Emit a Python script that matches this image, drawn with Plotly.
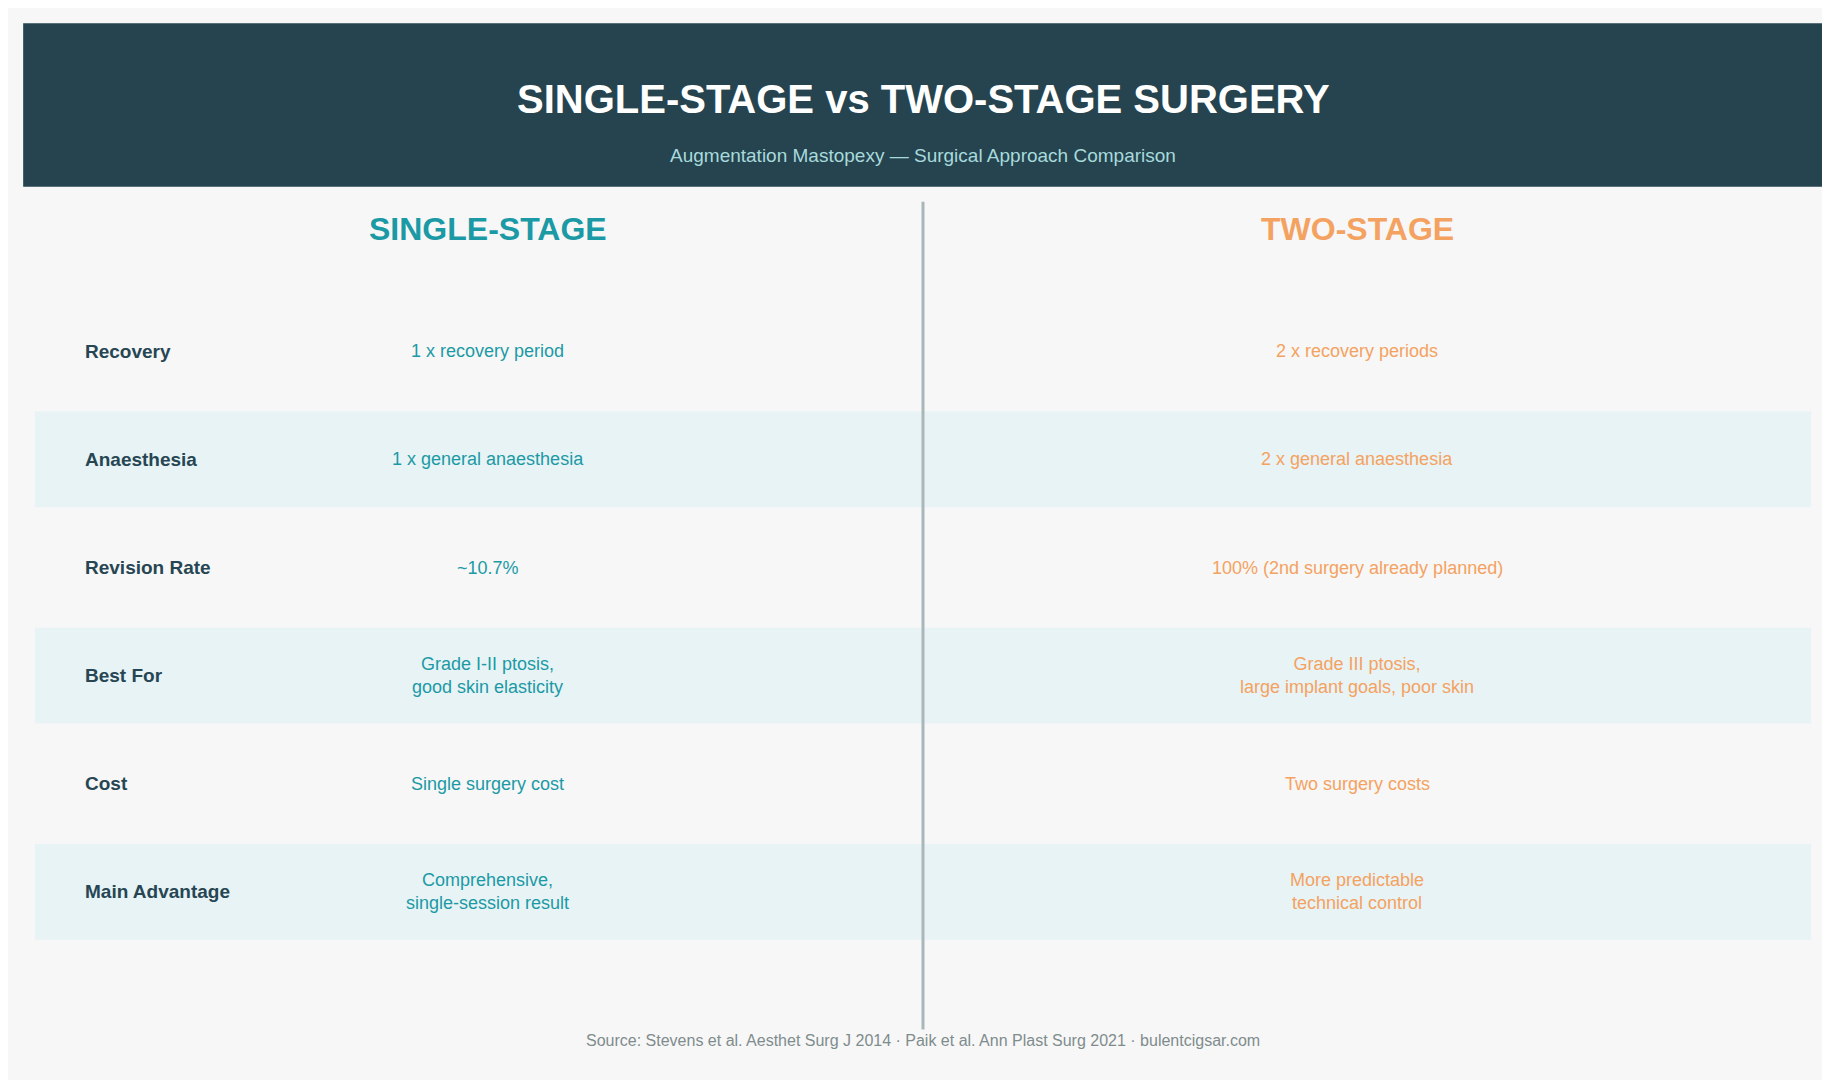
import plotly.graph_objects as go

title = "SINGLE-STAGE vs TWO-STAGE SURGERY"
subtitle = "Augmentation Mastopexy — Surgical Approach Comparison"
col_headers = ["SINGLE-STAGE", "TWO-STAGE"]
row_labels = ["Recovery", "Anaesthesia", "Revision Rate", "Best For", "Cost", "Main Advantage"]
single_vals = ["1 x recovery period", "1 x general anaesthesia", "~10.7%",
               "Grade I-II ptosis,<br>good skin elasticity", "Single surgery cost",
               "Comprehensive,<br>single-session result"]
two_vals = ["2 x recovery periods", "2 x general anaesthesia", "100% (2nd surgery already planned)",
            "Grade III ptosis,<br>large implant goals, poor skin", "Two surgery costs",
            "More predictable<br>technical control"]
source = "Source: Stevens et al. Aesthet Surg J 2014 · Paik et al. Ann Plast Surg 2021 · bulentcigsar.com"

W, H = 1568, 925
TEAL, ORANGE, DARK = "#1b9aa6", "#f4a261", "#264653"
font = "Liberation Sans, Arial, sans-serif"

fig = go.Figure()
shapes, ann = [], []
shapes.append(dict(type="rect", x0=13, x1=1555, y0=13, y1=153, fillcolor="#25444f", line_width=0, layer="below"))
ann.append(dict(x=784, y=78, text=f"<b>{title}</b>", font=dict(size=40, color="white", family=font)))
ann.append(dict(x=784, y=126, text=subtitle, font=dict(size=19, color="#a8dadc", family=font)))
for x, t, c in [(411, col_headers[0], TEAL), (1156, col_headers[1], ORANGE)]:
    ann.append(dict(x=x, y=189, text=f"<b>{t}</b>", font=dict(size=32, color=c, family=font)))
for i, (lab, s, t) in enumerate(zip(row_labels, single_vals, two_vals)):
    yc = 294 + i * 92.6
    if i % 2 == 1:
        shapes.append(dict(type="rect", x0=23, x1=1545, y0=yc - 41, y1=yc + 41, fillcolor="#e8f3f5", line_width=0, layer="below"))
    ann.append(dict(x=64, y=yc, text=f"<b>{lab}</b>", xanchor="left", font=dict(size=19, color=DARK, family=font)))
    ann.append(dict(x=411, y=yc, text=s, font=dict(size=18, color=TEAL, family=font)))
    ann.append(dict(x=1156, y=yc, text=t, font=dict(size=18, color=ORANGE, family=font)))
shapes.append(dict(type="line", x0=784, x1=784, y0=166, y1=875, line=dict(color="#a9b7bb", width=3)))
ann.append(dict(x=784, y=884, text=source, font=dict(size=16, color="#7f8c8d", family=font)))
for a in ann:
    a.update(xref="x", yref="y", showarrow=False)
    a.setdefault("xanchor", "center")
    a["yanchor"] = "middle"

fig.update_layout(width=1830, height=1080, margin=dict(l=0, r=0, t=0, b=0),
                  paper_bgcolor="#f7f7f7", plot_bgcolor="#f7f7f7",
                  xaxis=dict(range=[0, W], visible=False, fixedrange=True),
                  yaxis=dict(range=[H, 0], visible=False, fixedrange=True),
                  shapes=shapes, annotations=ann, showlegend=False)
fig.write_html("out.html")
